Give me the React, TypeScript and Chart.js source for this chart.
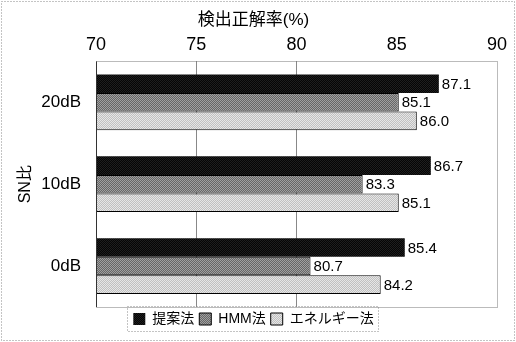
import React, { useEffect, useRef } from "react";
import { Chart, registerables } from "chart.js";

Chart.register(...registerables);

const categories = ["20dB", "10dB", "0dB"];
const seriesNames = ["提案法", "HMM法", "エネルギー法"];
const proposed = [87.1, 86.7, 85.4];
const hmm = [85.1, 83.3, 80.7];
const energy = [86.0, 85.1, 84.2];
const xTicks = [70, 75, 80, 85, 90];
const visibleGrid = [75, 80];

const FONT = "'Liberation Sans', 'Noto Sans CJK JP', sans-serif";

function makePattern(a: string, b: string, size = 2): CanvasPattern | string {
  const c = document.createElement("canvas");
  c.width = size;
  c.height = size;
  const g = c.getContext("2d");
  if (!g) return a;
  g.fillStyle = a;
  g.fillRect(0, 0, size, size);
  g.fillStyle = b;
  g.fillRect(0, 0, 1, 1);
  g.fillRect(1, 1, 1, 1);
  const p = g.createPattern(c, "repeat");
  return p || a;
}

export default function App() {
  const ref = useRef<HTMLCanvasElement | null>(null);

  useEffect(() => {
    document.body.style.margin = "0";
    const canvas = ref.current;
    if (!canvas) return;

    const blackFill = makePattern("#050505", "#1e1e1e");
    const hmmFill = makePattern("#666", "#a0a0a0");
    const energyFill = makePattern("#c0c0c0", "#e6e6e6");

    const frame = {
      id: "frame",
      beforeDraw(chart: any) {
        const { ctx, width, height } = chart;
        ctx.save();
        ctx.fillStyle = "#fff";
        ctx.fillRect(0, 0, width, height);
        ctx.strokeStyle = "#888";
        ctx.lineWidth = 1;
        ctx.setLineDash([1, 2]);
        ctx.strokeRect(1.5, 1.5, width - 3, height - 3);
        ctx.restore();
      },
      afterDatasetsDraw(chart: any) {
        const { ctx, chartArea } = chart;
        ctx.save();
        ctx.strokeStyle = "#777";
        ctx.lineWidth = 1;
        ctx.setLineDash([1, 1]);
        ctx.strokeRect(
          Math.round(chartArea.left) + 0.5,
          Math.round(chartArea.top) + 0.5,
          Math.round(chartArea.right - chartArea.left),
          Math.round(chartArea.bottom - chartArea.top)
        );
        ctx.setLineDash([]);
        ctx.strokeStyle = "#333";
        ctx.beginPath();
        ctx.moveTo(Math.round(chartArea.left) + 0.5, chartArea.top);
        ctx.lineTo(Math.round(chartArea.left) + 0.5, chartArea.bottom);
        ctx.stroke();

        ctx.font = `15px ${FONT}`;
        ctx.textAlign = "left";
        ctx.textBaseline = "middle";
        chart.data.datasets.forEach((ds: any, di: number) => {
          const meta = chart.getDatasetMeta(di);
          meta.data.forEach((bar: any, i: number) => {
            const v = ds.data[i];
            const txt = v.toFixed(1);
            const tw = ctx.measureText(txt).width;
            const x = bar.x + 2;
            const y = bar.y;
            ctx.fillStyle = "#fff";
            ctx.fillRect(x, y - 8, tw + 2, 16);
            ctx.fillStyle = "#000";
            ctx.fillText(txt, x + 1, y + 1);
          });
        });
        ctx.restore();
      },
      afterDraw(chart: any) {
        const lg = chart.legend;
        if (!lg || !lg.legendHitBoxes || !lg.legendHitBoxes.length) return;
        const boxes = lg.legendHitBoxes;
        let minX = Infinity, maxX = -Infinity, minY = Infinity, maxY = -Infinity;
        boxes.forEach((b: any) => {
          minX = Math.min(minX, b.left);
          maxX = Math.max(maxX, b.left + b.width);
          minY = Math.min(minY, b.top);
          maxY = Math.max(maxY, b.top + b.height);
        });
        const { ctx } = chart;
        ctx.save();
        ctx.strokeStyle = "#888";
        ctx.lineWidth = 1;
        ctx.setLineDash([1, 2]);
        ctx.strokeRect(Math.round(minX - 6) + 0.5, Math.round(minY - 6) + 0.5, Math.round(maxX - minX + 11), Math.round(maxY - minY + 11));
        ctx.restore();
      },
    };

    const chart = new Chart(canvas, {
      type: "bar",
      data: {
        labels: categories,
        datasets: [
          { label: seriesNames[0], data: proposed, backgroundColor: blackFill as any, borderColor: "#000", borderWidth: 0 },
          { label: seriesNames[1], data: hmm, backgroundColor: hmmFill as any, borderColor: "#000", borderWidth: 1 },
          { label: seriesNames[2], data: energy, backgroundColor: energyFill as any, borderColor: "#000", borderWidth: 1 },
        ],
      },
      options: {
        indexAxis: "y",
        animation: false,
        responsive: false,
        maintainAspectRatio: false,
        layout: { padding: { top: 10, left: 10, right: 19, bottom: 6 } },
        datasets: { bar: { categoryPercentage: 0.68, barPercentage: 1, borderSkipped: "start" } },
        scales: {
          x: {
            position: "top",
            min: 70,
            max: 90,
            afterBuildTicks(scale: any) {
              scale.ticks = xTicks.map((v) => ({ value: v }));
            },
            afterFit(scale: any) {
              scale.height = 31;
            },
            ticks: {
              color: "#000",
              font: { family: FONT, size: 18 },
              padding: 6,
              maxRotation: 0,
            },
            grid: {
              color: (c: any) => (c.tick && visibleGrid.includes(c.tick.value) ? "#888" : "rgba(0,0,0,0)"),
              drawTicks: false,
              lineWidth: 1,
            },
            border: { display: false },
          },
          y: {
            afterFit(scale: any) {
              scale.width = 86;
            },
            ticks: { color: "#000", font: { family: FONT, size: 17 }, padding: 15 },
            grid: { display: false, drawTicks: false },
            border: { display: false },
            title: { display: true, text: "SN比", color: "#000", font: { family: FONT, size: 16 }, padding: { top: 6, bottom: 0 } },
          },
        },
        plugins: {
          title: { display: true, text: "検出正解率(%)", color: "#000", font: { family: FONT, size: 17, weight: "normal" }, padding: { top: 0, bottom: 0 } },
          legend: {
            position: "bottom",
            labels: { color: "#000", font: { family: FONT, size: 14 }, boxWidth: 12, boxHeight: 12, padding: 5 },
          },
          tooltip: { enabled: false },
        },
      } as any,
      plugins: [frame],
    });
    return () => chart.destroy();
  }, []);

  return <canvas ref={ref} width={516} height={342} style={{ display: "block", width: 516, height: 342 }} />;
}
